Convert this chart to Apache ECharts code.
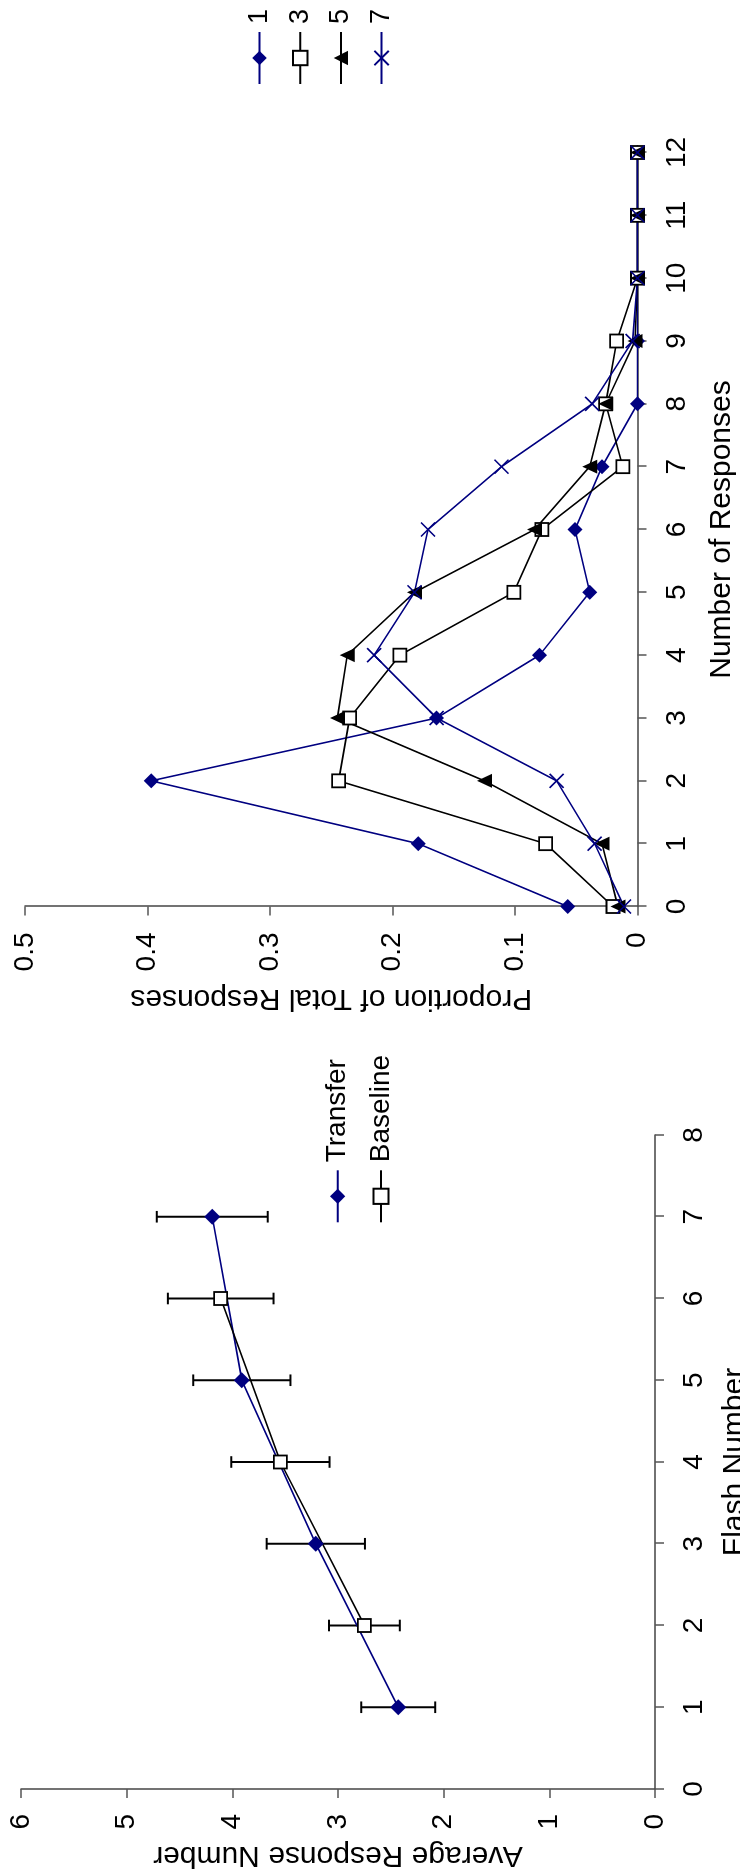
<!DOCTYPE html>
<html>
<head>
<meta charset="utf-8">
<script src="https://cdn.jsdelivr.net/npm/echarts@6/dist/echarts.min.js"></script>
<style>
  html, body { margin: 0; padding: 0; background: #fff; overflow: hidden; width: 740px; height: 1876px; }
  /* landscape page turned a quarter turn counter-clockwise */
  #page { position: absolute; left: 0; top: 0; width: 1876px; height: 740px;
          transform-origin: 0 0; transform: translate(0px, 1876px) rotate(-90deg); background: #fff; }
</style>
</head>
<body>
<div id="page"></div>
<script>
// ---- Left panel: average response number per flash ----
const transferFlash = [1, 3, 5, 7];
const transferMean  = [2.43, 3.21, 3.91, 4.19];
const transferErr   = [0.35, 0.465, 0.46, 0.525];

const baselineFlash = [2, 4, 6];
const baselineMean  = [2.75, 3.545, 4.11];
const baselineErr   = [0.335, 0.465, 0.5];

// ---- Right panel: distribution of response counts ----
const responseCounts = [0, 1, 2, 3, 4, 5, 6, 7, 8, 9, 10, 11, 12];
const flash1 = [0.057, 0.179, 0.397, 0.164, 0.080, 0.039, 0.051, 0.029, 0, 0, 0, 0, 0];
const flash3 = [0.020, 0.075, 0.244, 0.235, 0.194, 0.101, 0.078, 0.012, 0.026, 0.017, 0, 0, 0];
const flash5 = [0.016, 0.029, 0.125, 0.245, 0.237, 0.182, 0.084, 0.039, 0.026, 0.002, 0, 0, 0];
const flash7 = [0.011, 0.035, 0.066, 0.164, 0.215, 0.182, 0.171, 0.111, 0.037, 0.004, 0, 0, 0];

const NAVY = '#000080';
const FONT = '"Liberation Sans", Arial, sans-serif';
const CROSS = 'path://M0,0L10,10M10,0L0,10';

const pairs = (xs, ys) => xs.map((x, i) => [x, ys[i]]);
const bars = (xs, m, e) => xs.map((x, i) => [x, m[i] - e[i], m[i] + e[i]]);

function errorBarItem(params, api) {
  const x = api.value(0);
  const pLo = api.coord([x, api.value(1)]);
  const pHi = api.coord([x, api.value(2)]);
  const cap = 5.8;
  const style = { stroke: '#000', lineWidth: 2, fill: null };
  return {
    type: 'group',
    children: [
      { type: 'line', shape: { x1: pLo[0], y1: pLo[1], x2: pHi[0], y2: pHi[1] }, style },
      { type: 'line', shape: { x1: pLo[0] - cap, y1: pLo[1], x2: pLo[0] + cap, y2: pLo[1] }, style },
      { type: 'line', shape: { x1: pHi[0] - cap, y1: pHi[1], x2: pHi[0] + cap, y2: pHi[1] }, style }
    ]
  };
}

function valueAxis(idx, min, max, interval, name, gap, margin) {
  return {
    type: 'value', gridIndex: idx, min, max, interval,
    name, nameLocation: 'middle', nameGap: gap,
    nameTextStyle: { fontSize: 30, color: '#000', fontFamily: FONT },
    axisLine: { show: true, lineStyle: { color: '#444', width: 1.5 } },
    axisTick: { show: true, inside: false, length: 9, lineStyle: { color: '#555', width: 1.5 } },
    axisLabel: { show: true, margin, fontSize: 28, color: '#000', fontFamily: FONT },
    splitLine: { show: false }
  };
}

const lineBase = { type: 'line', showSymbol: true, animation: false };

const option = {
  animation: false,
  backgroundColor: '#fff',
  textStyle: { fontFamily: FONT, color: '#000' },
  grid: [
    { left: 87, top: 21, width: 654, height: 634, containLabel: false, outerBoundsMode: 'none' },
    { left: 969.5, top: 25, width: 754, height: 612.5, containLabel: false, outerBoundsMode: 'none' }
  ],
  xAxis: [
    valueAxis(0, 0, 8, 1, 'Flash Number', 65, 25),
    valueAxis(1, 0, 12, 1, 'Number of Responses', 69, 26)
  ],
  yAxis: [
    valueAxis(0, 0, 6, 1, 'Average Response Number', 51, 25),
    valueAxis(1, 0, 0.5, 0.1, 'Proportion of Total Responses', 77, 26)
  ],
  legend: [
    {
      data: ['Transfer', 'Baseline'], orient: 'vertical', left: 652.7, top: 323.7,
      itemWidth: 52, itemHeight: 19, itemGap: 15.3, padding: 0, selectedMode: false,
      textStyle: { fontSize: 28, color: '#000', fontFamily: FONT, padding: [0, 0, 0, 3] }
    },
    {
      data: ['1', '3', '5', '7'], orient: 'vertical', left: 1791, top: 246,
      itemWidth: 52, itemHeight: 18, itemGap: 13.7, padding: 0, selectedMode: false,
      textStyle: { fontSize: 27, color: '#000', fontFamily: FONT, padding: [0, 0, 0, 3] }
    }
  ],
  series: [
    {
      type: 'custom', name: 'Transfer SE', xAxisIndex: 0, yAxisIndex: 0,
      renderItem: errorBarItem, encode: { x: 0, y: [1, 2] },
      data: bars(transferFlash, transferMean, transferErr), z: 1
    },
    {
      type: 'custom', name: 'Baseline SE', xAxisIndex: 0, yAxisIndex: 0,
      renderItem: errorBarItem, encode: { x: 0, y: [1, 2] },
      data: bars(baselineFlash, baselineMean, baselineErr), z: 1
    },
    Object.assign({}, lineBase, {
      name: 'Transfer', xAxisIndex: 0, yAxisIndex: 0,
      data: pairs(transferFlash, transferMean),
      symbol: 'diamond', symbolSize: 16,
      lineStyle: { color: NAVY, width: 1.6 },
      itemStyle: { color: NAVY, borderWidth: 0 }
    }),
    Object.assign({}, lineBase, {
      name: 'Baseline', xAxisIndex: 0, yAxisIndex: 0,
      data: pairs(baselineFlash, baselineMean),
      symbol: 'rect', symbolSize: 13,
      lineStyle: { color: '#000', width: 1.6 },
      itemStyle: { color: '#fff', borderColor: '#000', borderWidth: 1.8 }
    }),
    Object.assign({}, lineBase, {
      name: '1', xAxisIndex: 1, yAxisIndex: 1,
      data: pairs(responseCounts, flash1),
      symbol: 'diamond', symbolSize: 15,
      lineStyle: { color: NAVY, width: 1.6 },
      itemStyle: { color: NAVY, borderWidth: 0 }
    }),
    Object.assign({}, lineBase, {
      name: '3', xAxisIndex: 1, yAxisIndex: 1,
      data: pairs(responseCounts, flash3),
      symbol: 'rect', symbolSize: 13,
      lineStyle: { color: '#000', width: 1.6 },
      itemStyle: { color: '#fff', borderColor: '#000', borderWidth: 1.8 }
    }),
    Object.assign({}, lineBase, {
      name: '5', xAxisIndex: 1, yAxisIndex: 1,
      data: pairs(responseCounts, flash5),
      symbol: 'triangle', symbolSize: [14, 15],
      lineStyle: { color: '#000', width: 1.6 },
      itemStyle: { color: '#000', borderWidth: 0 }
    }),
    Object.assign({}, lineBase, {
      name: '7', xAxisIndex: 1, yAxisIndex: 1,
      data: pairs(responseCounts, flash7),
      symbol: CROSS, symbolSize: 14,
      lineStyle: { color: NAVY, width: 1.6 },
      itemStyle: { color: NAVY, borderColor: NAVY, borderWidth: 1.6 }
    })
  ]
};

const chart = echarts.init(document.getElementById('page'), null, { renderer: 'canvas', width: 1876, height: 740 });
chart.setOption(option);
</script>
</body>
</html>
